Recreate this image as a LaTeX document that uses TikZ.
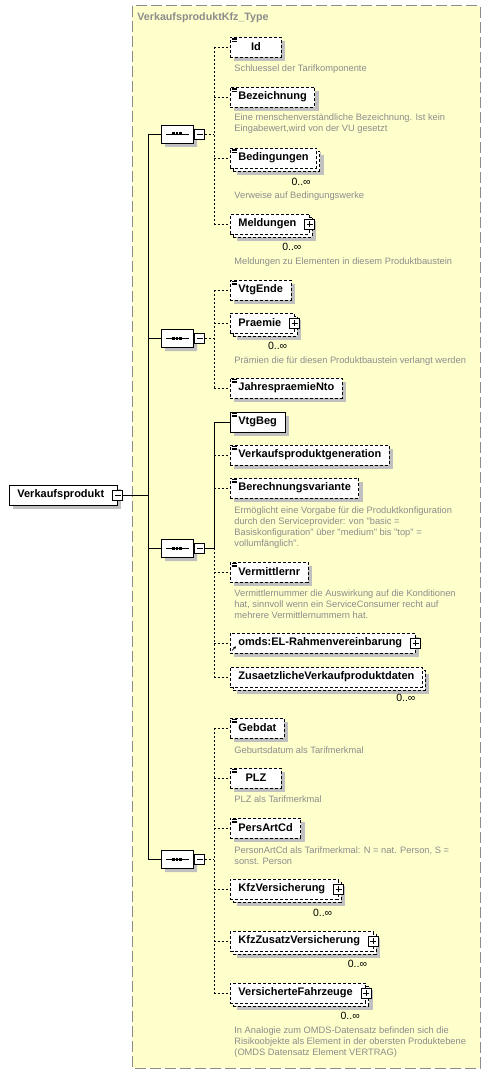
\documentclass[tikz,border=0pt]{standalone}
\usepackage{fontspec}
\setmainfont{Liberation Sans}
\newfontfamily\notefont{Liberation Sans}
\usetikzlibrary{shapes.misc,shadows,calc,arrows.meta}
\definecolor{typefill}{HTML}{FFFFCC}
\definecolor{typeframe}{HTML}{8C8C8C}
\definecolor{annogray}{HTML}{8C8C8C}
\definecolor{shadegray}{HTML}{C0C0C0}
\tikzset{
  xsd diagram/.style={
    x=1pt, y=-1pt,
    line width=0.8pt,
  },
  xsd elem/.style={
    draw, fill=white, anchor=west,
    font=\bfseries\fontsize{11}{13}\selectfont,
    inner xsep=8pt, inner ysep=0pt,
    minimum height=20pt, minimum width=51pt,
    general shadow={fill=shadegray, shadow xshift=4pt, shadow yshift=-4pt},
  },
  optional/.style={dash pattern=on 3pt off 2pt},
  unbounded/.style={
    general shadow={fill=shadegray, shadow xshift=7pt, shadow yshift=-7pt},
    general shadow={fill=white, draw=black, dash pattern=on 3pt off 2pt,
      shadow xshift=3pt, shadow yshift=-3pt},
  },
  has children/.style={execute at end node={\hspace{5pt}}},
  xsd seq/.style={
    chamfered rectangle, chamfered rectangle xsep=6pt,
    draw, fill=white, minimum width=32pt, minimum height=18pt, inner sep=0pt,
    general shadow={fill=shadegray, shadow xshift=4pt, shadow yshift=-4pt},
    path picture={
      \draw ([xshift=5pt]path picture bounding box.west)
        -- ([xshift=-4pt]path picture bounding box.east);
      \draw[line width=3pt, dash pattern=on 2.6pt off 0.9pt]
        ([xshift=-4.8pt]path picture bounding box.center)
        -- ([xshift=4.8pt]path picture bounding box.center);
    },
  },
  xsd toggle/.style={draw, fill=white, minimum size=10pt, inner sep=0pt},
  collapse/.style={xsd toggle,
    path picture={\draw ([xshift=2pt]path picture bounding box.west)
      -- ([xshift=-2pt]path picture bounding box.east);}},
  expand/.style={xsd toggle,
    path picture={\draw ([xshift=2pt]path picture bounding box.west)
      -- ([xshift=-2pt]path picture bounding box.east);
      \draw ([yshift=-2pt]path picture bounding box.north)
      -- ([yshift=2pt]path picture bounding box.south);}},
  anno/.style={anchor=base west, inner sep=0pt, align=left, text=annogray,
    font=\notefont\fontsize{9.3}{11}\selectfont},
  occurs/.style={anchor=east, inner sep=0pt, font=\fontsize{10.5}{12}\selectfont},
  type title/.style={anchor=west, inner sep=0pt, text=typeframe,
    font=\bfseries\fontsize{10.7}{12}\selectfont},
  link/.style={dash pattern=on 2pt off 2pt},
}
\newcommand\simplemark[1]{%
  \foreach \k in {1.5,3.2,4.9}
    \draw[line width=0.6pt] ($(#1.north west)+(1.5,\k)$) -- ++(5.5,0);}

\begin{document}
\begin{tikzpicture}[xsd diagram]
\useasboundingbox (0,0) rectangle (491,1075);
\draw[typeframe, fill=typefill, line width=1pt, dash pattern=on 11pt off 4pt]
  (132,6) rectangle (480,1068);
\node[type title] (ttl) at (137,18) {VerkaufsproduktKfz\_Type};

\node[xsd elem, has children] (vkp) at (9,495) {Verkaufsprodukt};
\node[collapse] (vkpm) at (vkp.east) {};
\coordinate (trunk) at ($(vkpm.east)+(25,0)$);

\node[xsd seq] (s1) at (177,134) {};
\node[xsd seq] (s2) at (177,338) {};
\node[xsd seq] (s3) at (177,548) {};
\node[xsd seq] (s4) at (177,859) {};
\node[collapse, anchor=west] (s1m) at ([xshift=1pt]s1.east) {};
\node[collapse, anchor=west] (s2m) at ([xshift=1pt]s2.east) {};
\node[collapse, anchor=west] (s3m) at ([xshift=1pt]s3.east) {};
\node[collapse, anchor=west] (s4m) at ([xshift=1pt]s4.east) {};
\coordinate (b1) at ($(s1m.east)+(9,0)$);
\coordinate (b2) at ($(s2m.east)+(9,0)$);
\coordinate (b3) at ($(s3m.east)+(9,0)$);
\coordinate (b4) at ($(s4m.east)+(9,0)$);

\node[xsd elem, optional] (id) at (230,47) {Id};
\node[xsd elem, optional] (bez) at (230,97) {Bezeichnung};
\node[xsd elem, optional, unbounded] (bed) at (230,158) {Bedingungen};
\node[xsd elem, optional, unbounded, has children] (meld) at (230,224) {Meldungen};
\node[expand] (meldp) at (meld.east) {};
\simplemark{id}
\simplemark{bez}
\simplemark{bed}
\node[anno] (id-doc) at (234,72) {Schluessel der Tarifkomponente};
\node[anno] (bez-doc) at (234,132) {Eine menschenverständliche Bezeichnung. Ist kein\\Eingabewert,wird von der VU gesetzt};
\node[occurs] (bed-occ) at ($(bed.east)+(-6,24)$) {0..∞};
\node[anno] (bed-doc) at (234,199) {Verweise auf Bedingungswerke};
\node[occurs] (meld-occ) at ($(meld.east)+(-8,23)$) {0..∞};
\node[anno] (meld-doc) at (234,264) {Meldungen zu Elementen in diesem Produktbaustein};

\node[xsd elem, optional] (vtgende) at (230,290) {VtgEnde};
\node[xsd elem, optional, unbounded, has children] (praemie) at (230,323) {Praemie};
\node[expand] (praemiep) at (praemie.east) {};
\node[xsd elem, optional] (jpn) at (230,388) {JahrespraemieNto};
\simplemark{vtgende}
\simplemark{jpn}
\node[occurs] (praemie-occ) at ($(praemie.east)+(-7,23)$) {0..∞};
\node[anno] (praemie-doc) at (234,363) {Prämien die für diesen Produktbaustein verlangt werden};

\node[xsd elem] (vtgbeg) at (230,422) {VtgBeg};
\node[xsd elem, optional] (vkpgen) at (230,455) {Verkaufsproduktgeneration};
\node[xsd elem, optional] (bvar) at (230,488) {Berechnungsvariante};
\node[xsd elem, optional] (vmnr) at (230,572) {Vermittlernr};
\node[xsd elem, optional, has children] (omds) at (230,643) {omds:EL-Rahmenvereinbarung};
\node[expand] (omdsp) at (omds.east) {};
\node[xsd elem, optional, unbounded] (zvkd) at (230,677) {ZusaetzlicheVerkaufproduktdaten};
\simplemark{vtgbeg}
\simplemark{vkpgen}
\simplemark{bvar}
\simplemark{vmnr}
\draw[-{Stealth[length=3pt,width=3pt]}, line width=0.7pt]
  ($(omds.south west)+(2,-3)$) -- ++(4,-4);
\node[anno] (bvar-doc) at (234,546) {Ermöglicht eine Vorgabe für die Produktkonfiguration\\durch den Serviceprovider: von "basic =\\Basiskonfiguration" über "medium" bis "top" =\\vollumfänglich".};
\node[anno] (vmnr-doc) at (234,618) {Vermittlernummer die Auswirkung auf die Konditionen\\hat, sinnvoll wenn ein ServiceConsumer recht auf\\mehrere Vermittlernummern hat.};
\node[occurs] (zvkd-occ) at ($(zvkd.east)+(-7,21)$) {0..∞};

\node[xsd elem, optional] (gebdat) at (230,728) {Gebdat};
\node[xsd elem, optional] (plz) at (230,778) {PLZ};
\node[xsd elem, optional] (persart) at (230,828) {PersArtCd};
\node[xsd elem, optional, unbounded, has children] (kfzv) at (230,889) {KfzVersicherung};
\node[expand] (kfzvp) at (kfzv.east) {};
\node[xsd elem, optional, unbounded, has children] (kfzzv) at (230,941) {KfzZusatzVersicherung};
\node[expand] (kfzzvp) at (kfzzv.east) {};
\node[xsd elem, optional, unbounded, has children] (versfz) at (230,993) {VersicherteFahrzeuge};
\node[expand] (versfzp) at (versfz.east) {};
\simplemark{gebdat}
\simplemark{plz}
\simplemark{persart}
\node[anno] (gebdat-doc) at (234,753) {Geburtsdatum als Tarifmerkmal};
\node[anno] (plz-doc) at (234,802) {PLZ als Tarifmerkmal};
\node[anno] (persart-doc) at (234,864) {PersonArtCd als Tarifmerkmal: N = nat. Person, S =\\sonst. Person};
\node[occurs] (kfzv-occ) at ($(kfzv.east)+(-6,24)$) {0..∞};
\node[occurs] (kfzzv-occ) at ($(kfzzv.east)+(-6,23)$) {0..∞};
\node[occurs] (versfz-occ) at ($(versfz.east)+(-6,23)$) {0..∞};
\node[anno] (versfz-doc) at (234,1055) {In Analogie zum OMDS-Datensatz befinden sich die\\Risikoobjekte als Element in der obersten Produktebene\\(OMDS Datensatz Element VERTRAG)};

\draw (vkpm.east) -- (trunk);
\draw (trunk |- s1.west) -- (trunk |- s4.west);
\draw (trunk |- s1.west) -- (s1.west);
\draw (trunk |- s2.west) -- (s2.west);
\draw (trunk |- s3.west) -- (s3.west);
\draw (trunk |- s4.west) -- (s4.west);

\draw[link] (s1m.east) -- (b1);
\draw[link] (b1 |- id.west) -- (b1 |- meld.west);
\draw[link] (b1 |- id.west) -- (id.west);
\draw[link] (b1 |- bez.west) -- (bez.west);
\draw[link] (b1 |- bed.west) -- (bed.west);
\draw[link] (b1 |- meld.west) -- (meld.west);

\draw[link] (s2m.east) -- (b2);
\draw[link] (b2 |- vtgende.west) -- (b2 |- jpn.west);
\draw[link] (b2 |- vtgende.west) -- (vtgende.west);
\draw[link] (b2 |- praemie.west) -- (praemie.west);
\draw[link] (b2 |- jpn.west) -- (jpn.west);

\draw (s3m.east) -- (b3) -- (b3 |- vtgbeg.west) -- (vtgbeg.west);
\draw[link] (b3) -- (b3 |- zvkd.west);
\draw[link] (b3 |- vkpgen.west) -- (vkpgen.west);
\draw[link] (b3 |- bvar.west) -- (bvar.west);
\draw[link] (b3 |- vmnr.west) -- (vmnr.west);
\draw[link] (b3 |- omds.west) -- (omds.west);
\draw[link] (b3 |- zvkd.west) -- (zvkd.west);

\draw[link] (s4m.east) -- (b4);
\draw[link] (b4 |- gebdat.west) -- (b4 |- versfz.west);
\draw[link] (b4 |- gebdat.west) -- (gebdat.west);
\draw[link] (b4 |- plz.west) -- (plz.west);
\draw[link] (b4 |- persart.west) -- (persart.west);
\draw[link] (b4 |- kfzv.west) -- (kfzv.west);
\draw[link] (b4 |- kfzzv.west) -- (kfzzv.west);
\draw[link] (b4 |- versfz.west) -- (versfz.west);
\end{tikzpicture}
\end{document}
